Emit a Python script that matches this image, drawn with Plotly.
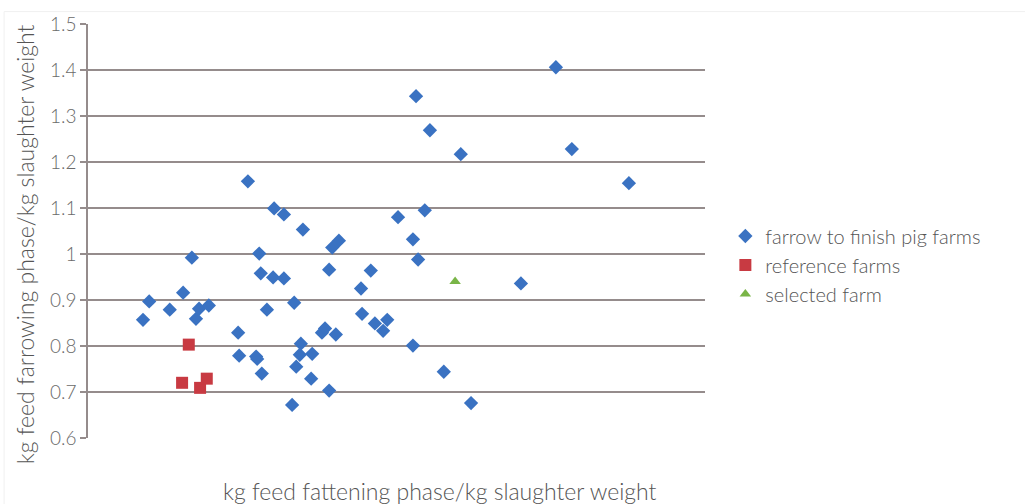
import plotly.graph_objects as go

# farrow to finish pig farms
farm_x = [2.307, 2.319, 2.359, 2.385, 2.402, 2.410, 2.416, 2.435, 2.492, 2.494,
          2.511, 2.533, 2.536, 2.548, 2.527, 2.529, 2.538, 2.560, 2.581, 2.562,
          2.581, 2.601, 2.614, 2.612, 2.636, 2.605, 2.634, 2.597, 2.618, 2.669,
          2.655, 2.661, 2.682, 2.669, 2.675, 2.688, 2.731, 2.750, 2.733, 2.758,
          2.782, 2.774, 2.803, 2.832, 2.842, 2.855, 2.832, 2.838, 2.865, 2.925,
          2.892, 2.945, 3.042, 3.110, 3.141, 3.252]
farm_y = [0.857, 0.897, 0.879, 0.916, 0.992, 0.859, 0.881, 0.888, 0.829, 0.779,
          1.158, 1.001, 0.958, 0.879, 0.777, 0.772, 0.740, 0.949, 0.947, 1.099,
          1.086, 0.894, 0.805, 0.781, 0.783, 0.755, 0.729, 0.672, 1.053, 0.703,
          0.829, 0.838, 0.825, 0.966, 1.014, 1.029, 0.925, 0.964, 0.870, 0.849,
          0.857, 0.833, 1.080, 1.032, 0.988, 1.095, 0.801, 1.343, 1.269, 1.217,
          0.744, 0.676, 0.936, 1.406, 1.228, 1.154]

# reference farms
ref_x = [2.396, 2.383, 2.418, 2.431]
ref_y = [0.803, 0.720, 0.709, 0.729]

# selected farm
sel_x = [2.914]
sel_y = [0.940]

y_ticks = [0.6, 0.7, 0.8, 0.9, 1.0, 1.1, 1.2, 1.3, 1.4, 1.5]
y_tick_labels = ["0.6", "0.7", "0.8", "0.9", "1", "1.1", "1.2", "1.3", "1.4", "1.5"]

FONT = "Lato, 'Open Sans', sans-serif"
TXT = "#6a6a6a"
TITLE = "#555555"
GRID = "#958c8c"

fig = go.Figure()
fig.add_trace(go.Scatter(
    x=farm_x, y=farm_y, mode="markers", name="farrow to finish pig farms",
    marker=dict(symbol="diamond", size=11, color="#3a72c2"),
))
fig.add_trace(go.Scatter(
    x=ref_x, y=ref_y, mode="markers", name="reference farms",
    marker=dict(symbol="square", size=12, color="#c83a42"),
))
fig.add_trace(go.Scatter(
    x=sel_x, y=sel_y, mode="markers", name="selected farm",
    marker=dict(symbol="triangle-up", size=10, color="#79b547"),
))

fig.update_layout(
    width=1025, height=504,
    margin=dict(l=88, r=320, t=24, b=66),
    paper_bgcolor="white", plot_bgcolor="white",
    font=dict(family=FONT, color=TXT, size=17, weight=300),
    showlegend=True,
    legend=dict(
        x=1.033, y=0.535, xanchor="left", yanchor="top",
        font=dict(family=FONT, size=20, color=TITLE, weight=300),
        itemsizing="trace", tracegroupgap=0, itemwidth=30,
        bgcolor="rgba(0,0,0,0)",
    ),
    xaxis=dict(
        range=[2.2, 3.4], showgrid=False, zeroline=False,
        showticklabels=False, showline=False, ticks="",
    ),
    yaxis=dict(
        range=[0.6, 1.5], tickvals=y_ticks, ticktext=y_tick_labels,
        showgrid=True, gridcolor=GRID, gridwidth=1.5,
        zeroline=False, showline=True, linecolor=GRID, linewidth=1.5,
        ticks="outside", ticklen=6, tickcolor=GRID, tickwidth=1.5,
        tickfont=dict(family=FONT, size=19, color=TXT, weight=300),
    ),
)

fig.add_annotation(
    text="kg feed farrowing phase/kg slaughter weight",
    xref="paper", yref="paper", x=(25 - 88) / 617, y=(437.5 - 244) / 413.5,
    xanchor="center", yanchor="middle", textangle=-90, showarrow=False,
    font=dict(family=FONT, size=23, color=TITLE, weight=300),
)

fig.add_annotation(
    text="kg feed fattening phase/kg slaughter weight",
    xref="paper", yref="paper", x=(440 - 88) / 617, y=-(490 - 437.5) / 413.5,
    xanchor="center", yanchor="middle", showarrow=False,
    font=dict(family=FONT, size=23, color=TITLE, weight=300),
)

fig.add_shape(type="rect", xref="paper", yref="paper",
              x0=-0.136, x1=1.52, y0=-0.2, y1=1.03,
              line=dict(color="#f0f0f0", width=1), layer="below")

fig.write_html("out.html")
